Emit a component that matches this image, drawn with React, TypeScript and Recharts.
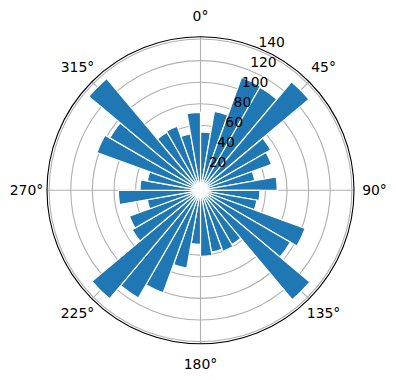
import {
  PolarAngleAxis,
  PolarGrid,
  PolarRadiusAxis,
  RadialBar,
  RadialBarChart,
} from "recharts";

// bar centres, compass degrees (0 = north, clockwise)
const directions = [
  5, 15, 25, 35, 45, 55, 65, 75, 85, 95, 105, 115, 125, 135, 145, 155, 165, 175,
  185, 195, 205, 215, 225, 235, 245, 255, 265, 275, 285, 295, 305, 315, 325, 335,
  345, 355,
];
const counts = [
  54, 74, 111, 110, 131, 75, 70, 51, 71, 55, 53, 103, 96, 132, 58, 60, 58, 61,
  50, 73, 101, 115, 131, 73, 70, 50, 76, 56, 50, 102, 97, 135, 62, 63, 53, 72,
];
const radiusTicks = [20, 40, 60, 80, 100, 120, 140];
const compassTicks = [0, 45, 90, 135, 180, 225, 270, 315];
const rMax = 141.75;

const data = directions.map((d, i) => ({ dir: d, count: counts[i] }));

const CX = 200.5;
const CY = 190.3;
const OUTER = 153.5;
const LABEL_R = 174;
const HALF_BAND = 5;
const font = "DejaVu Sans";
const RAD = Math.PI / 180;

// category ticks come at the start of each 10° band; compass labels at
// multiples of 45° are placed relative to the nearest band
function CompassTick(props: any) {
  const { payload } = props;
  const cx = props.cx ?? CX;
  const cy = props.cy ?? CY;
  const dir = Number(payload.value);
  let label: number | null = null;
  if ((dir - 5) % 90 === 0) label = dir - 5;
  else if (dir % 90 === 45) label = dir;
  if (label === null || !compassTicks.includes(label)) return <g />;
  const a = (payload.coordinate + HALF_BAND + (dir - label)) * RAD;
  const x = cx + LABEL_R * Math.cos(a);
  const y = cy - LABEL_R * Math.sin(a);
  return (
    <text
      x={x}
      y={y}
      textAnchor="middle"
      dominantBaseline="central"
      fontFamily={font}
      fontSize={13.9}
      fill="#000"
    >
      {label}°
    </text>
  );
}

function RadiusTick(props: any) {
  const { x, y, payload } = props;
  return (
    <text x={x} y={y - 3} textAnchor="start" fontFamily={font} fontSize={13.9} fill="#000">
      {payload.value}
    </text>
  );
}

export default function App() {
  return (
    <div style={{ position: "absolute", left: 0, top: 0, background: "#fff" }}>
      <RadialBarChart
        width={396}
        height={380}
        data={data}
        layout="centric"
        cx={CX}
        cy={CY}
        innerRadius={0}
        outerRadius={OUTER}
        startAngle={80}
        endAngle={-280}
        barCategoryGap={0}
        barGap={0}
        margin={{ top: 0, right: 0, bottom: 0, left: 0 }}
      >
        <PolarAngleAxis
          dataKey="dir"
          type="category"
          tick={<CompassTick />}
          tickLine={false}
          axisLineType="circle"
          axisLine={{ stroke: "#000", strokeWidth: 1.1 }}
        />
        <PolarRadiusAxis
          type="number"
          domain={[0, rMax]}
          ticks={radiusTicks}
          angle={67.5}
          axisLine={false}
          tickLine={false}
          tick={<RadiusTick />}
        />
        <RadialBar
          dataKey="count"
          fill="#1f77b4"
          stroke="#ffffff"
          strokeWidth={1.2}
          isAnimationActive={false}
        />
        <PolarGrid
          gridType="circle"
          polarAngles={compassTicks.map((t) => 90 - t)}
          stroke="#b0b0b0"
          strokeWidth={1.1}
        />
      </RadialBarChart>
    </div>
  );
}
